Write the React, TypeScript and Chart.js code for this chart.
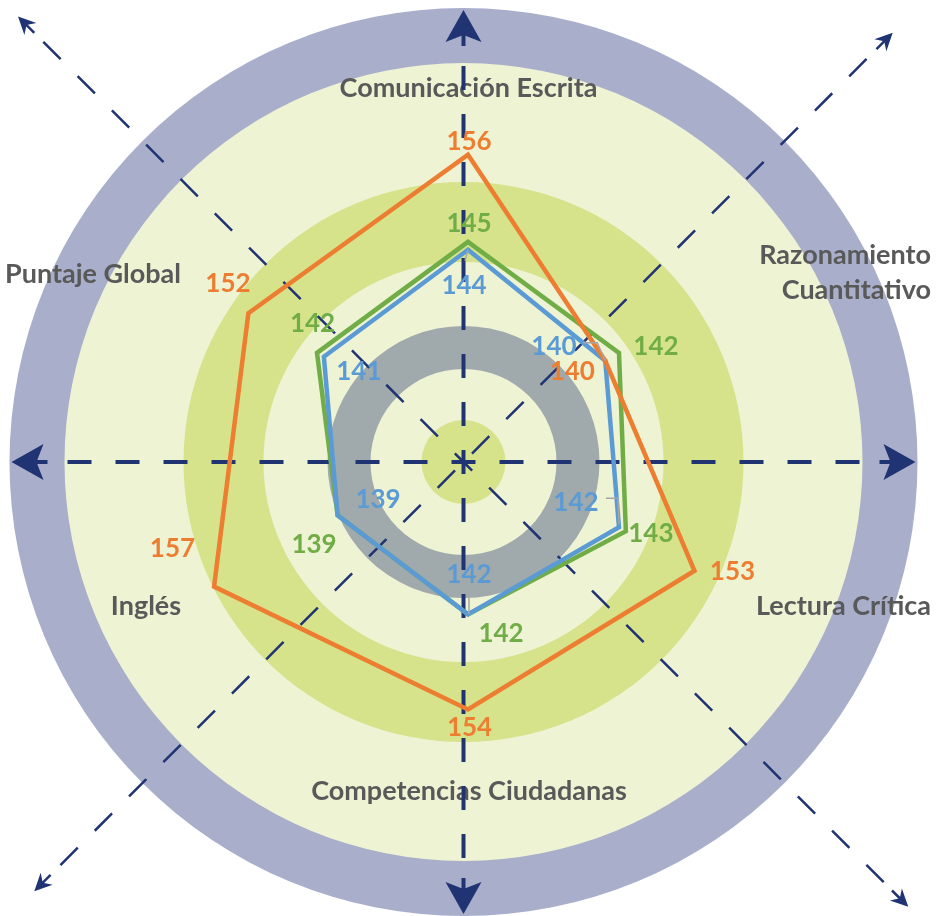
import { useEffect, useRef } from "react";
import { Chart, registerables } from "chart.js";

Chart.register(...registerables);

// ---------- DATA ----------
const categories = [
  "Comunicación Escrita",
  "Razonamiento Cuantitativo",
  "Lectura Crítica",
  "Competencias Ciudadanas",
  "Inglés",
  "Puntaje Global",
];
const seriesNames = ["Serie naranja", "Serie azul", "Serie verde"];
const orangeValues = [156, 140, 153, 154, 157, 152];
const blueValues = [144, 140, 142, 142, 139, 141];
const greenValues = [145, 142, 143, 142, 139, 142];
const scaleMin = 120;
const scaleMax = 160;

// ---------- LAYOUT / STYLE ----------
const W = 937;
const H = 916;
const RADAR_CX = 468;
const RADAR_CY = 440;
const RADAR_R = 317;
const BG_CX = 463.5;
const BG_CY = 462;

const ORANGE = "#ED7D31";
const BLUE = "#5B9BD5";
const GREEN = "#70AD47";
const NAVY = "#203473";
const TEXT = "#595959";
const FONT = "Lato, 'Open Sans', sans-serif";

// category label placement (x, baseline y per line, align)
const CAT_LAYOUT = [
  { x: 468.5, y: [97], align: "center", wrap: false },
  { x: 931, y: [264, 299], align: "right", wrap: true },
  { x: 931, y: [615], align: "right", wrap: false },
  { x: 469, y: [800], align: "center", wrap: false },
  { x: 146, y: [615], align: "center", wrap: false },
  { x: 93, y: [283], align: "center", wrap: false },
];

// value label offsets (label centre relative to the data point), per dataset
const LABEL_OFFSETS = [
  [[1, -14], [-33, 10], [38, 0], [1.5, 17.5], [-41.6, -39], [-20.4, -31]],
  [[-4, 35], [-51.3, -15.2], [-43, -26], [1, -40.4], [40.4, -16.3], [35, 14]],
  [[1, -19], [37, -7.3], [25, 1.3], [33, 18], [-23.6, 28.7], [-4.5, -30.8]],
];
// leader lines (points relative to data point): [dataset, index, points]
const LEADERS: [number, number, number[][]][] = [
  [1, 0, [[-3, 11], [0, 0]]],
  [1, 1, [[-22, -18], [-8, -18], [0, 0]]],
  [1, 2, [[-13, -29], [-1, -29], [0, -3]]],
  [1, 3, [[1, -17], [1, 0]]],
];

function ring(ctx: CanvasRenderingContext2D, r1: number, r2: number, color: string) {
  ctx.beginPath();
  ctx.arc(BG_CX, BG_CY, r2, 0, Math.PI * 2);
  if (r1 > 0) {
    ctx.moveTo(BG_CX + r1, BG_CY);
    ctx.arc(BG_CX, BG_CY, r1, 0, Math.PI * 2, true);
  }
  ctx.fillStyle = color;
  ctx.fill("evenodd");
}

function dashHalf(
  ctx: CanvasRenderingContext2D,
  ux: number,
  uy: number,
  length: number,
  dash: number,
  gap: number,
  offset: number
) {
  ctx.setLineDash([dash, gap]);
  ctx.lineDashOffset = offset;
  ctx.beginPath();
  ctx.moveTo(BG_CX, BG_CY);
  ctx.lineTo(BG_CX + ux * length, BG_CY + uy * length);
  ctx.stroke();
}

function arrow(
  ctx: CanvasRenderingContext2D,
  ux: number,
  uy: number,
  tipDist: number,
  len: number,
  halfW: number,
  notch: number,
  shaftTo: number,
  shaftW: number
) {
  const tx = BG_CX + ux * tipDist;
  const ty = BG_CY + uy * tipDist;
  const px = -uy;
  const py = ux;
  ctx.setLineDash([]);
  ctx.lineWidth = shaftW;
  ctx.beginPath();
  ctx.moveTo(tx - ux * (notch - 1), ty - uy * (notch - 1));
  ctx.lineTo(tx - ux * shaftTo, ty - uy * shaftTo);
  ctx.stroke();
  ctx.beginPath();
  ctx.moveTo(tx, ty);
  ctx.lineTo(tx - ux * len + px * halfW, ty - uy * len + py * halfW);
  ctx.lineTo(tx - ux * notch, ty - uy * notch);
  ctx.lineTo(tx - ux * len - px * halfW, ty - uy * len - py * halfW);
  ctx.closePath();
  ctx.fill();
}

const backgroundPlugin = {
  id: "infographicBackground",
  beforeDraw(chart: any) {
    const ctx: CanvasRenderingContext2D = chart.ctx;
    ctx.save();
    ctx.fillStyle = "#ffffff";
    ctx.fillRect(0, 0, chart.width, chart.height);
    ring(ctx, 0, 454, "#A9AECB");
    ring(ctx, 0, 399, "#EEF3D4");
    ring(ctx, 200, 280, "#D7E38B");
    ring(ctx, 93, 136, "#A0A9AC");
    ring(ctx, 0, 42, "#D7E38B");

    // category labels
    ctx.fillStyle = TEXT;
    ctx.font = `bold 27px ${FONT}`;
    ctx.textBaseline = "alphabetic";
    categories.forEach((cat, i) => {
      const lay = CAT_LAYOUT[i];
      const lines = lay.wrap ? cat.split(" ") : [cat];
      ctx.textAlign = lay.align as CanvasTextAlign;
      lines.forEach((ln, j) => ctx.fillText(ln, lay.x, lay.y[j]));
    });
    ctx.restore();
  },
  beforeDatasetsDraw(chart: any) {
    const ctx: CanvasRenderingContext2D = chart.ctx;
    ctx.save();
    ctx.strokeStyle = NAVY;
    ctx.fillStyle = NAVY;
    ctx.lineCap = "butt";
    // main axes
    const axes = [
      [1, 0],
      [-1, 0],
      [0, 1],
      [0, -1],
    ];
    axes.forEach(([ux, uy]) => {
      ctx.lineWidth = 4;
      dashHalf(ctx, ux, uy, 408, 24, 24, 12);
      arrow(ctx, ux, uy, 452, 32, 18, 25, 36, 4);
    });
    // diagonals
    const s = Math.SQRT1_2;
    const diags = [
      [-s, -s, 595, 12.25, 630],
      [s, s, 595, 12.25, 629],
      [s, -s, 572, 36.5, 607],
      [-s, s, 572, 36.5, 607],
    ];
    diags.forEach(([ux, uy, len, off, tip]) => {
      ctx.lineWidth = 2.5;
      dashHalf(ctx, ux, uy, len, 24.5, 24, off);
      arrow(ctx, ux, uy, tip, 17.5, 8.5, 12, 23, 2.5);
    });
    ctx.restore();
  },
  afterDatasetsDraw(chart: any) {
    const ctx: CanvasRenderingContext2D = chart.ctx;
    ctx.save();
    // leader lines
    ctx.strokeStyle = "#A6A6A6";
    ctx.lineWidth = 1.5;
    LEADERS.forEach(([d, i, pts]) => {
      const el = chart.getDatasetMeta(d).data[i];
      ctx.beginPath();
      pts.forEach(([dx, dy], k) => {
        if (k === 0) ctx.moveTo(el.x + dx, el.y + dy);
        else ctx.lineTo(el.x + dx, el.y + dy);
      });
      ctx.stroke();
    });
    // value labels
    ctx.font = `bold 26px ${FONT}`;
    ctx.textAlign = "center";
    ctx.textBaseline = "alphabetic";
    chart.data.datasets.forEach((ds: any, d: number) => {
      const meta = chart.getDatasetMeta(d);
      ctx.fillStyle = ds.borderColor;
      meta.data.forEach((el: any, i: number) => {
        const [dx, dy] = LABEL_OFFSETS[d][i];
        ctx.fillText(String(ds.data[i]), el.x + dx, el.y + dy + 9.5);
      });
    });
    ctx.restore();
  },
};

export default function App() {
  const ref = useRef<HTMLCanvasElement>(null);
  useEffect(() => {
    document.body.style.margin = "0";
    const canvas = ref.current!;
    const chart = new Chart(canvas, {
      type: "radar",
      data: {
        labels: categories,
        datasets: [
          { label: seriesNames[0], data: orangeValues, borderColor: ORANGE },
          { label: seriesNames[1], data: blueValues, borderColor: BLUE },
          { label: seriesNames[2], data: greenValues, borderColor: GREEN },
        ],
      },
      options: {
        responsive: false,
        animation: false,
        devicePixelRatio: 1,
        events: [],
        layout: {
          padding: {
            left: RADAR_CX - RADAR_R,
            right: W - RADAR_CX - RADAR_R,
            top: RADAR_CY - RADAR_R,
            bottom: H - RADAR_CY - RADAR_R,
          },
        },
        plugins: {
          legend: { display: false },
          tooltip: { enabled: false },
          title: { display: false },
        },
        scales: {
          r: {
            min: scaleMin,
            max: scaleMax,
            grid: { display: false },
            angleLines: { display: false },
            ticks: { display: false },
            pointLabels: { display: false },
          },
        },
        elements: {
          line: {
            borderWidth: 4.5,
            tension: 0,
            fill: false,
            borderJoinStyle: "miter",
          },
          point: { radius: 0, hitRadius: 0, hoverRadius: 0 },
        },
      } as any,
      plugins: [backgroundPlugin as any],
    });
    return () => chart.destroy();
  }, []);
  return (
    <div style={{ position: "fixed", left: 0, top: 0, width: W, height: H, background: "#fff" }}>
      <canvas ref={ref} width={W} height={H} style={{ display: "block" }} />
    </div>
  );
}
